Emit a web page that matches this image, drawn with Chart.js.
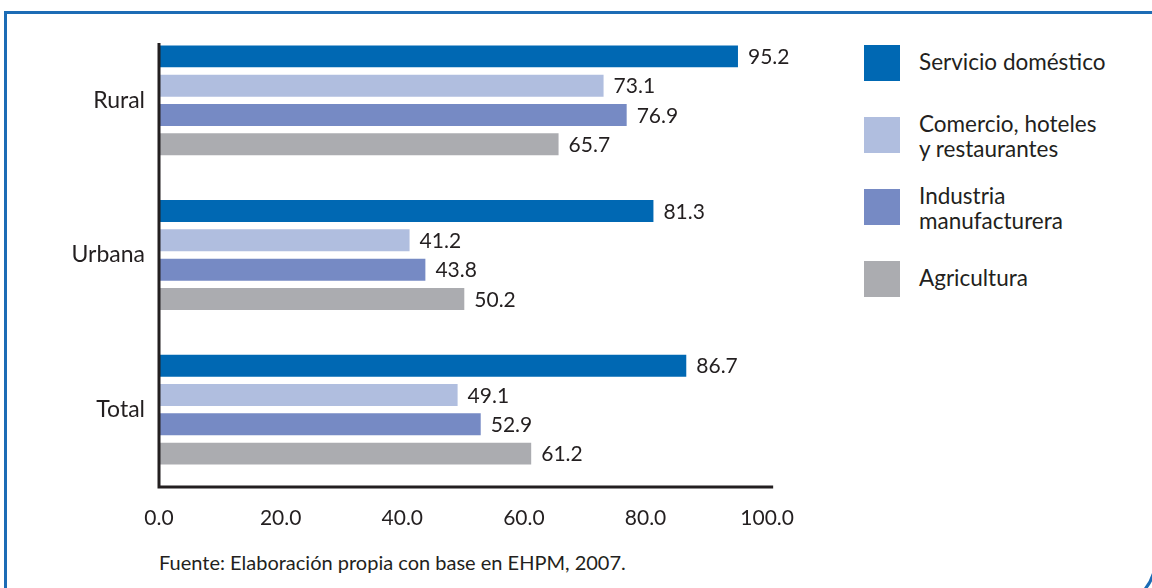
<!DOCTYPE html>
<html>
<head>
<meta charset="utf-8">
<script src="https://cdn.jsdelivr.net/npm/chart.js@4/dist/chart.umd.min.js"></script>
<style>
  body { margin: 0; width: 1152px; height: 588px; overflow: hidden; background: #fff; position: relative; font-family: Lato, "Noto Sans", sans-serif; color: #231f20; }
  #frame { position: absolute; left: 4px; top: 11px; width: 1153px; height: 598px; border: 3px solid #1c6cb5; border-bottom-right-radius: 50px; box-sizing: border-box; }
  #chart { position: absolute; left: 0; top: 0; }
  #legend { position: absolute; left: 864px; top: 45px; }
  .item { display: flex; align-items: flex-start; height: 36px; margin-bottom: 36px; }
  .box { width: 36px; height: 36px; flex: none; }
  .text { margin-left: 19px; font-size: 22.5px; line-height: 25px; white-space: nowrap; }
  .one { padding-top: 4px; }
  .two { margin-top: -6px; }
  #source { position: absolute; left: 159px; top: 550px; font-size: 20px; }
</style>
</head>
<body>
<div id="frame"></div>
<canvas id="chart" width="813" height="547"></canvas>
<div id="legend"></div>
<div id="source">Fuente: Elaboración propia con base en EHPM, 2007.</div>
<script>
const categories = ['Rural', 'Urbana', 'Total'];
const seriesNames = [['Servicio doméstico'], ['Comercio, hoteles', 'y restaurantes'], ['Industria', 'manufacturera'], ['Agricultura']];
const servicio = [95.2, 81.3, 86.7];
const comercio = [73.1, 41.2, 49.1];
const industria = [76.9, 43.8, 52.9];
const agricultura = [65.7, 50.2, 61.2];
const xTicks = [0, 20, 40, 60, 80, 100];
const colors = ['#0068b3', '#b0bedf', '#768ac4', '#abacb0'];

const font = 'Lato, "Noto Sans", sans-serif';
const series = [servicio, comercio, industria, agricultura];

// legend on the right, built from the series names
const legend = document.getElementById('legend');
seriesNames.forEach(function(name, i) {
    const item = document.createElement('div');
    item.className = 'item';
    item.innerHTML = '<div class="box" style="background:' + colors[i] + '"></div>' +
        '<div class="text ' + (name.length > 1 ? 'two' : 'one') + '">' + name.join('<br>') + '</div>';
    legend.appendChild(item);
});

// numbers at the end of each bar
const valueLabels = {
    id: 'valueLabels',
    afterDatasetsDraw(chart) {
        const ctx = chart.ctx;
        ctx.save();
        ctx.font = '21px ' + font;
        ctx.fillStyle = '#231f20';
        ctx.textAlign = 'left';
        ctx.textBaseline = 'middle';
        chart.data.datasets.forEach(function(ds, i) {
            chart.getDatasetMeta(i).data.forEach(function(bar, j) {
                ctx.fillText(ds.data[j].toFixed(1), bar.x + 10, bar.y + 1);
            });
        });
        ctx.restore();
    }
};

// axis lines: the vertical one starts a bit below the top of the plot
const axisLines = {
    id: 'axisLines',
    afterDraw(chart) {
        const a = chart.chartArea;
        const ctx = chart.ctx;
        ctx.save();
        ctx.strokeStyle = '#231f20';
        ctx.lineWidth = 3;
        ctx.beginPath();
        ctx.moveTo(a.left, a.top + 20);
        ctx.lineTo(a.left, a.bottom);
        ctx.lineTo(a.right + 6, a.bottom);
        ctx.stroke();
        ctx.restore();
    }
};

new Chart(document.getElementById('chart'), {
    type: 'bar',
    data: {
        labels: categories,
        datasets: series.map(function(values, i) {
            return {
                label: seriesNames[i].join(' '),
                data: values,
                backgroundColor: colors[i],
                categoryPercentage: 0.758,
                barPercentage: 0.75
            };
        })
    },
    options: {
        indexAxis: 'y',
        responsive: false,
        animation: false,
        layout: { padding: { top: 23, right: 33, left: 0, bottom: 0 } },
        plugins: { legend: { display: false }, tooltip: { enabled: false } },
        scales: {
            x: {
                min: 0,
                max: 100,
                afterBuildTicks: function(scale) {
                    scale.ticks = xTicks.map(v => ({ value: v }));
                },
                afterFit: function(scale) { scale.height = 60; },
                grid: { display: false, drawTicks: false },
                border: { display: false },
                ticks: {
                    padding: 19,
                    color: '#231f20',
                    font: { family: font, size: 21 },
                    callback: function(value) { return Number(value).toFixed(1); }
                }
            },
            y: {
                afterFit: function(scale) {
                    scale.width = 159;
                    scale.paddingTop = 0;
                    scale.paddingBottom = 0;
                },
                grid: { display: false, drawTicks: false },
                border: { display: false },
                ticks: {
                    padding: 14,
                    color: '#231f20',
                    font: { family: font, size: 23 }
                }
            }
        }
    },
    plugins: [valueLabels, axisLines]
});
</script>
</body>
</html>
